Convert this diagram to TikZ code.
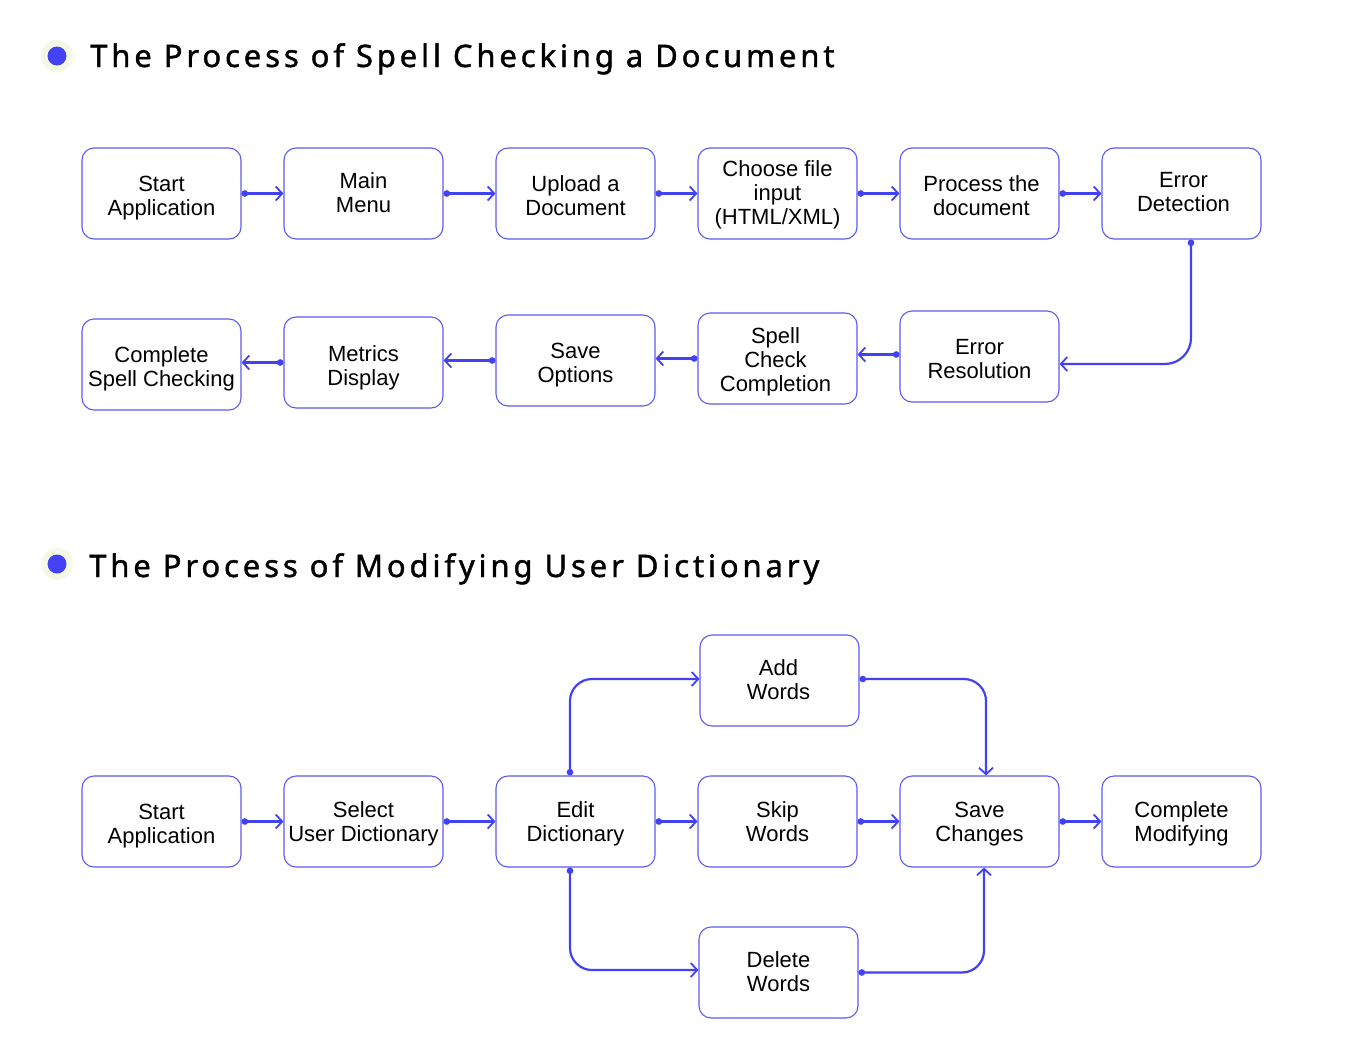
\documentclass[tikz,border=0pt]{standalone}
\usepackage{fontspec}
\setmainfont{Liberation Sans}
\newfontfamily\titlefam{Noto Sans}[LetterSpace=12.5,FakeBold=1.3]
\usetikzlibrary{arrows.meta}
\definecolor{boxblue}{RGB}{92,92,240}
\definecolor{lineblue}{RGB}{66,66,242}
\definecolor{dotblue}{RGB}{67,67,245}
\definecolor{halo}{RGB}{244,249,230}
\begin{document}
\begin{tikzpicture}[x=1pt,y=-1pt,
  stepbox/.style={draw=boxblue, line width=1.1pt, rounded corners=12pt,
    minimum width=159pt, minimum height=91pt, inner sep=0pt},
  steptext/.style={inner sep=0pt, align=center,
    font=\fontsize{22}{24}\selectfont, text=black},
  conn/.style={draw=lineblue, line width=2.2pt, rounded corners=22pt,
    {Circle[length=6.5pt]}-{Straight Barb[length=6.5pt,width=14pt,line width=1.8pt]}},
  titletext/.style={anchor=base west, inner sep=0pt, font=\titlefam\fontsize{31}{36}\selectfont}]
\useasboundingbox[fill=white] (0,0) rectangle (1360,1060);

% titles
\fill[halo] (57,56) circle (16);
\fill[dotblue] (57,56) circle (9.5);
\node[titletext] (title1) at (90,67) {The Process of Spell Checking a Document};
\fill[halo] (57,564) circle (16);
\fill[dotblue] (57,564) circle (9.5);
\node[titletext] (title2) at (89,577) {The Process of Modifying User Dictionary};

% section 1, row 1
\node[stepbox] (s1) at (161.5,193.5) {};
\node[steptext] (s1t) at ([yshift=-5pt]s1.center) {Start\\Application};
\node[stepbox] (s2) at (363.5,193.5) {};
\node[steptext] (s2t) at ([yshift=1pt]s2.center) {Main\\Menu};
\node[stepbox] (s3) at (575.5,193.5) {};
\node[steptext] (s3t) at ([yshift=-2pt]s3.center) {Upload a\\Document};
\node[stepbox] (s4) at (777.5,193.5) {};
\node[steptext] (s4t) at ([yshift=-1pt]s4.center) {Choose file\\input\\(HTML/XML)};
\node[stepbox] (s5) at (979.5,193.5) {};
\node[steptext] (s5t) at ([xshift=2pt,yshift=-2pt]s5.center) {Process the\\document};
\node[stepbox] (s6) at (1181.5,193.5) {};
\node[steptext] (s6t) at ([xshift=2pt,yshift=1pt]s6.center) {Error\\Detection};
% row 2
\node[stepbox] (r5) at (979.5,356.5) {};
\node[steptext] (r5t) at ([yshift=-3pt]r5.center) {Error\\Resolution};
\node[stepbox] (r4) at (777.5,358.5) {};
\node[steptext] (r4t) at ([xshift=-2pt,yshift=-3pt]r4.center) {Spell\\Check\\Completion};
\node[stepbox] (r3) at (575.5,360.5) {};
\node[steptext] (r3t) at ([yshift=-5pt]r3.center) {Save\\Options};
\node[stepbox] (r2) at (363.5,362.5) {};
\node[steptext] (r2t) at ([yshift=-5pt]r2.center) {Metrics\\Display};
\node[stepbox] (r1) at (161.5,364.5) {};
\node[steptext] (r1t) at ([yshift=-4pt]r1.center) {Complete\\Spell Checking};

\draw[conn] (s1.east) -- (s2.west);
\draw[conn] (s2.east) -- (s3.west);
\draw[conn] (s3.east) -- (s4.west);
\draw[conn] (s4.east) -- (s5.west);
\draw[conn] (s5.east) -- (s6.west);
\draw[conn, rounded corners=26pt] ([xshift=9.5pt]s6.south) |- ([yshift=-7.5pt]r5.east);
\draw[conn] ([yshift=2pt]r5.west) -- ([yshift=2pt]r5.west -| r4.east);
\draw[conn] (r4.west) -- (r4.west -| r3.east);
\draw[conn] (r3.west) -- (r3.west -| r2.east);
\draw[conn] (r2.west) -- (r2.west -| r1.east);

% section 2
\node[stepbox] (t1) at (161.5,821.5) {};
\node[steptext] (t1t) at ([yshift=-5pt]t1.center) {Start\\Application};
\node[stepbox] (t2) at (363.5,821.5) {};
\node[steptext] (t2t) at ([yshift=-2pt]t2.center) {Select\\User Dictionary};
\node[stepbox] (t3) at (575.5,821.5) {};
\node[steptext] (t3t) at ([yshift=-2pt]t3.center) {Edit\\Dictionary};
\node[stepbox] (t4) at (777.5,821.5) {};
\node[steptext] (t4t) at (t4.center) {Skip\\Words};
\node[stepbox] (t5) at (979.5,821.5) {};
\node[steptext] (t5t) at ([yshift=-3pt]t5.center) {Save\\Changes};
\node[stepbox] (t6) at (1181.5,821.5) {};
\node[steptext] (t6t) at ([yshift=-2pt]t6.center) {Complete\\Modifying};
\node[stepbox] (aw) at (779.5,680.5) {};
\node[steptext] (awt) at ([xshift=-1pt,yshift=1pt]aw.center) {Add\\Words};
\node[stepbox] (dw) at (778.5,972.5) {};
\node[steptext] (dwt) at ([yshift=1pt]dw.center) {Delete\\Words};

\draw[conn] (t1.east) -- (t2.west);
\draw[conn] (t2.east) -- (t3.west);
\draw[conn] (t3.east) -- (t4.west);
\draw[conn] (t4.east) -- (t5.west);
\draw[conn] (t5.east) -- (t6.west);
\draw[conn] ([xshift=-5.5pt]t3.north) |- ([yshift=1.5pt]aw.west);
\draw[conn] ([yshift=1.5pt]aw.east) -| ([xshift=6.5pt]t5.north);
\draw[conn] ([xshift=-5.5pt]t3.south) |- ([yshift=2.5pt]dw.west);
\draw[conn] (dw.east) -| ([xshift=4.5pt]t5.south);
\end{tikzpicture}
\end{document}
